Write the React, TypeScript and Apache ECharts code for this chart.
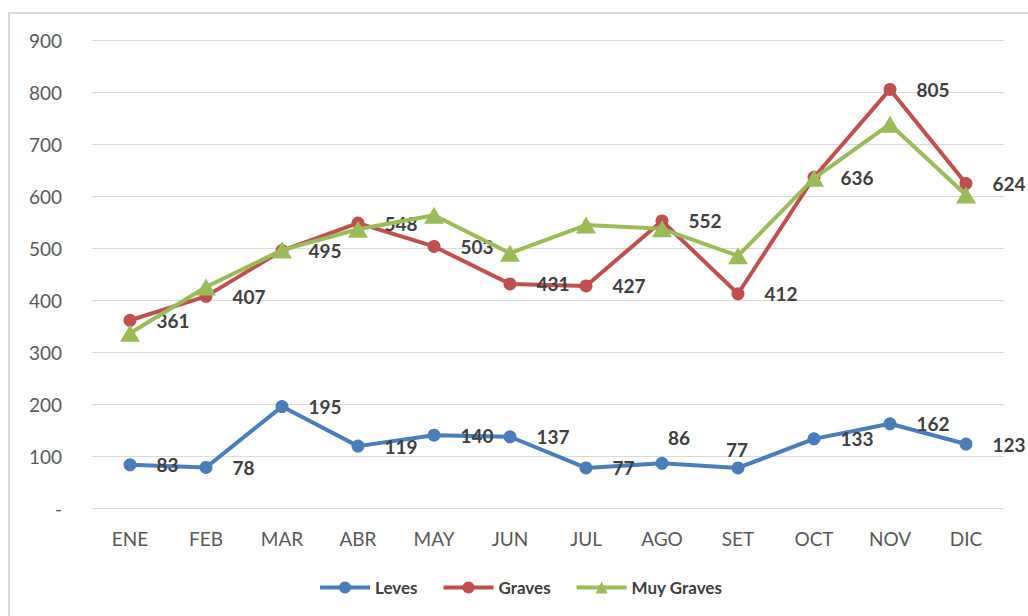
import React, { useEffect, useRef } from "react";
import * as echarts from "echarts";

const months = ["ENE", "FEB", "MAR", "ABR", "MAY", "JUN", "JUL", "AGO", "SET", "OCT", "NOV", "DIC"];
const leves = [83, 78, 195, 119, 140, 137, 77, 86, 77, 133, 162, 123];
const graves = [361, 407, 495, 548, 503, 431, 427, 552, 412, 636, 805, 624];
const muyGraves = [336, 425, 496, 536, 563, 490, 544, 537, 485, 634, 738, 602];
const yTicks = [0, 100, 200, 300, 400, 500, 600, 700, 800, 900];

const FONT = "Lato";

export default function App() {
  const ref = useRef<HTMLDivElement>(null);
  useEffect(() => {
    document.body.style.margin = "0";
    if (!ref.current) return;
    const chart = echarts.init(ref.current, undefined, { renderer: "svg" });
    const labelBase = {
      show: true,
      position: "right" as const,
      distance: 20,
      color: "#404040",
      fontFamily: FONT,
      fontWeight: "bold" as const,
      fontSize: 19,
    };
    const levesData = leves.map((v, i) => {
      if (months[i] === "AGO") return { value: v, label: { position: "inside", offset: [17, -26] } };
      if (months[i] === "SET") return { value: v, label: { position: "inside", offset: [-1, -18] } };
      return v;
    });
    chart.setOption({
      animation: false,
      backgroundColor: "#ffffff",
      graphic: [
        {
          type: "rect",
          shape: { x: 9, y: 13, width: 1200, height: 800 },
          style: { fill: "none", stroke: "#d9d9d9", lineWidth: 2 },
          silent: true,
        },
      ],
      grid: { left: 92, right: 24, top: 40, bottom: 108 },
      legend: {
        left: 313,
        top: 574,
        itemWidth: 50,
        itemHeight: 15,
        itemGap: 24,
        lineStyle: { width: 4 },
        textStyle: { fontFamily: FONT, fontWeight: "bold", fontSize: 17, color: "#404040" },
        data: ["Leves", "Graves", "Muy Graves"],
      },
      xAxis: {
        type: "category",
        data: months,
        boundaryGap: true,
        axisLine: { lineStyle: { color: "#d9d9d9" } },
        axisTick: { show: false },
        axisLabel: { color: "#595959", fontFamily: FONT, fontSize: 19, margin: 21 },
      },
      yAxis: {
        type: "value",
        min: yTicks[0],
        max: yTicks[yTicks.length - 1],
        interval: 100,
        axisLine: { show: false },
        axisTick: { show: false },
        splitLine: { lineStyle: { color: "#d9d9d9" } },
        axisLabel: {
          color: "#595959",
          fontFamily: FONT,
          fontSize: 19,
          margin: 30,
          formatter: (v: number) => (v === 0 ? "-" : String(v)),
        },
      },
      series: [
        {
          name: "Leves",
          type: "line",
          data: levesData,
          symbol: "circle",
          symbolSize: 13,
          color: "#4a7ebb",
          lineStyle: { width: 4, color: "#4a7ebb" },
          itemStyle: { color: "#4a7ebb" },
          label: labelBase,
          z: 3,
        },
        {
          name: "Graves",
          type: "line",
          data: graves,
          symbol: "circle",
          symbolSize: 13,
          color: "#c0504d",
          lineStyle: { width: 4, color: "#c0504d" },
          itemStyle: { color: "#c0504d" },
          label: labelBase,
          z: 3,
        },
        {
          name: "Muy Graves",
          type: "line",
          data: muyGraves,
          symbol: "triangle",
          symbolSize: [20, 17],
          color: "#9bbb59",
          lineStyle: { width: 4, color: "#9bbb59" },
          itemStyle: { color: "#9bbb59" },
          z: 4,
        },
      ],
    });
    return () => chart.dispose();
  }, []);
  return <div ref={ref} style={{ width: 1028, height: 616 }} />;
}
